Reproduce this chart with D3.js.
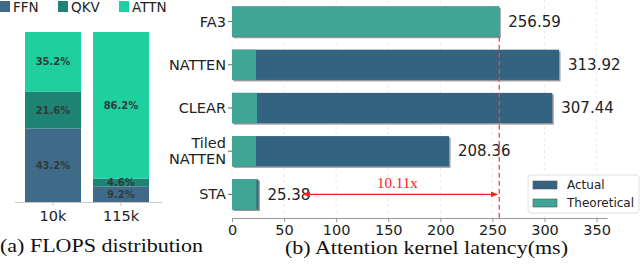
<!DOCTYPE html>
<html>
<head>
<meta charset="utf-8">
<script src="https://cdn.jsdelivr.net/npm/d3@7"></script>
<style>
  body { margin: 0; background: #fff; }
  svg { display: block; }
</style>
</head>
<body>
<div id="chart"></div>
<script>
// left panel data
var contexts = ["10k", "115k"];
var parts = ["FFN", "QKV", "ATTN"];
var ffnShare = [43.2, 9.2];
var qkvShare = [21.6, 4.6];
var attnShare = [35.2, 86.2];

// right panel data
var kernels = ["FA3", "NATTEN", "CLEAR", "Tiled NATTEN", "STA"];
var actualMs = [256.59, 313.92, 307.44, 208.36, 25.38];
var theoreticalMs = [256.59, 23.0, 24.0, 23.0, 23.5];
var xTicks = [0, 50, 100, 150, 200, 250, 300, 350];
var speedup = "10.11x";

var partColor = { FFN: "#3f6b89", QKV: "#1e8373", ATTN: "#1fcf9f" };
var actualColor = "#346380";
var theoColor = "#41a596";
var sans = "DejaVu Sans, sans-serif";
var serif = "Liberation Serif, Times New Roman, serif";

var svg = d3.select("#chart").append("svg")
  .attr("width", 640)
  .attr("height", 266);

// ---------- (a) FLOPS distribution ----------
var a = svg.append("g");

var xa = d3.scaleBand().domain(contexts).range([25, 149]).paddingInner(0.176).paddingOuter(0);
var ya = d3.scaleLinear().domain([0, 100]).range([202, 32]);

var stackRows = contexts.map(function(c, i) {
  return { ctx: c, FFN: ffnShare[i], QKV: qkvShare[i], ATTN: attnShare[i] };
});
var stacked = d3.stack().keys(parts)(stackRows);

a.selectAll("g.layer")
  .data(stacked)
  .enter().append("g")
  .attr("class", "layer")
  .attr("fill", function(d) { return partColor[d.key]; })
  .selectAll("rect")
  .data(function(d) { return d; })
  .enter().append("rect")
  .attr("x", function(d) { return xa(d.data.ctx); })
  .attr("width", xa.bandwidth())
  .attr("y", function(d) { return ya(d[1]); })
  .attr("height", function(d) { return ya(d[0]) - ya(d[1]); });

// percentage labels
stacked.forEach(function(layer) {
  layer.forEach(function(d) {
    var v = d.data[layer.key];
    a.append("text")
      .attr("x", xa(d.data.ctx) + xa.bandwidth() / 2)
      .attr("y", (ya(d[0]) + ya(d[1])) / 2)
      .attr("dy", "0.35em")
      .attr("text-anchor", "middle")
      .style("font-family", sans)
      .style("font-size", "10px")
      .style("font-weight", "bold")
      .style("fill", "#2e3b3b")
      .text(v.toFixed(1) + "%");
  });
});

var xaAxis = a.append("g")
  .attr("transform", "translate(0,202)")
  .call(d3.axisBottom(xa).tickSize(4).tickSizeOuter(0));
xaAxis.select(".domain").attr("stroke", "#c8c8c8").attr("d", "M15,0.5H162");
xaAxis.selectAll(".tick line").attr("stroke", "#c8c8c8");
xaAxis.selectAll(".tick text")
  .attr("dy", "0.85em")
  .style("font-family", sans)
  .style("font-size", "14.5px")
  .style("fill", "#222");

// legend on top
var legA = a.append("g").attr("transform", "translate(0,1)");
var legX = [0, 58, 119];
parts.forEach(function(p, i) {
  legA.append("rect")
    .attr("x", legX[i]).attr("y", 0)
    .attr("width", 10).attr("height", 11)
    .attr("fill", partColor[p]);
  legA.append("text")
    .attr("x", legX[i] + 13).attr("y", 11)
    .style("font-family", sans)
    .style("font-size", "13.5px")
    .style("fill", "#222")
    .text(p);
});

a.append("text")
  .attr("x", 0).attr("y", 252)
  .attr("textLength", 203)
  .attr("lengthAdjust", "spacingAndGlyphs")
  .style("font-family", serif)
  .style("font-size", "19px")
  .style("fill", "#111")
  .text("(a) FLOPS distribution");

// ---------- (b) Attention kernel latency ----------
var b = svg.append("g");

var xb = d3.scaleLinear().domain([0, 360]).range([232, 607]);
var yb = d3.scaleBand().domain(kernels).range([0, 216]).paddingInner(0.3).paddingOuter(0.15);

// faint vertical grid
b.selectAll("line.grid")
  .data(xTicks)
  .enter().append("line")
  .attr("class", "grid")
  .attr("x1", function(d) { return xb(d); })
  .attr("x2", function(d) { return xb(d); })
  .attr("y1", 0).attr("y2", 218)
  .attr("stroke", "#e6e6e6")
  .attr("stroke-width", 0.8)
  .attr("stroke-dasharray", "3,3");

var rows = kernels.map(function(k, i) {
  return { name: k, actual: actualMs[i], theo: theoreticalMs[i] };
});

// shadow
b.selectAll("rect.shadow")
  .data(rows)
  .enter().append("rect")
  .attr("class", "shadow")
  .attr("x", xb(0) + 1.5)
  .attr("y", function(d) { return yb(d.name) + 1.5; })
  .attr("width", function(d) { return xb(d.actual) - xb(0); })
  .attr("height", yb.bandwidth())
  .attr("fill", "#9a9a9a");

b.selectAll("rect.actual")
  .data(rows)
  .enter().append("rect")
  .attr("class", "actual")
  .attr("x", xb(0))
  .attr("y", function(d) { return yb(d.name); })
  .attr("width", function(d) { return xb(d.actual) - xb(0); })
  .attr("height", yb.bandwidth())
  .attr("fill", actualColor);

b.selectAll("rect.theo")
  .data(rows)
  .enter().append("rect")
  .attr("class", "theo")
  .attr("x", xb(0))
  .attr("y", function(d) { return yb(d.name); })
  .attr("width", function(d) { return xb(d.theo) - xb(0); })
  .attr("height", yb.bandwidth())
  .attr("fill", theoColor);

b.selectAll("text.val")
  .data(rows)
  .enter().append("text")
  .attr("class", "val")
  .attr("x", function(d) { return xb(d.actual) + 9; })
  .attr("y", function(d) { return yb(d.name) + yb.bandwidth() / 2; })
  .attr("dy", "0.35em")
  .style("font-family", sans)
  .style("font-size", "15px")
  .style("fill", "#222")
  .text(function(d) { return d.actual.toFixed(2); });

// x axis
var xbAxis = b.append("g")
  .attr("transform", "translate(0,218)")
  .call(d3.axisBottom(xb).tickValues(xTicks).tickSize(4).tickSizeOuter(0));
xbAxis.select(".domain").attr("stroke", "#999");
xbAxis.selectAll(".tick line").attr("stroke", "#999");
xbAxis.selectAll(".tick text")
  .attr("dy", "0.72em")
  .style("font-family", sans)
  .style("font-size", "14.5px")
  .style("fill", "#222");

// y axis (no spine)
var ybAxis = b.append("g")
  .attr("transform", "translate(" + xb(0) + ",0)")
  .call(d3.axisLeft(yb).tickSize(4));
ybAxis.select(".domain").remove();
ybAxis.selectAll(".tick line").attr("stroke", "#666");
ybAxis.selectAll(".tick text").remove();
ybAxis.selectAll(".tick").each(function(d) {
  var words = d === "Tiled NATTEN" ? ["Tiled", "NATTEN"] : [d];
  var t = d3.select(this).append("text")
    .attr("x", -6)
    .attr("text-anchor", "end")
    .style("font-family", sans)
    .style("font-size", "14.5px")
    .style("fill", "#222");
  words.forEach(function(w, i) {
    t.append("tspan")
      .attr("x", -6)
      .attr("dy", words.length === 1 ? "0.35em" : (i === 0 ? "-0.22em" : "1.12em"))
      .text(w);
  });
});

// dashed reference at FA3 latency
b.append("line")
  .attr("x1", xb(actualMs[0])).attr("x2", xb(actualMs[0]))
  .attr("y1", yb("FA3") + yb.bandwidth()).attr("y2", 218)
  .attr("stroke", "#ee4444")
  .attr("stroke-width", 1.3)
  .attr("stroke-dasharray", "5,3");

// speedup arrow
var defs = svg.append("defs");
["arrowL", "arrowR"].forEach(function(id) {
  defs.append("marker")
    .attr("id", id)
    .attr("viewBox", "0 0 10 10")
    .attr("refX", 9).attr("refY", 5)
    .attr("markerWidth", 6).attr("markerHeight", 6)
    .attr("orient", "auto-start-reverse")
    .append("path")
    .attr("d", "M0,1L10,5L0,9z")
    .attr("fill", "#ff2020");
});
var arrowY = yb("STA") + yb.bandwidth() / 2;
var arrowX0 = xb(actualMs[4]) + 45;
b.append("line")
  .attr("x1", arrowX0).attr("x2", xb(actualMs[0]) - 2)
  .attr("y1", arrowY).attr("y2", arrowY)
  .attr("stroke", "#ff2020")
  .attr("stroke-width", 1.2)
  .attr("marker-start", "url(#arrowL)")
  .attr("marker-end", "url(#arrowR)");
b.append("text")
  .attr("x", (arrowX0 + xb(actualMs[0])) / 2 - 4)
  .attr("y", arrowY - 6)
  .attr("text-anchor", "middle")
  .style("font-family", serif)
  .style("font-size", "15px")
  .style("fill", "#ff2020")
  .text(speedup);

// legend
var legB = b.append("g").attr("transform", "translate(528,175)");
legB.append("rect")
  .attr("width", 111).attr("height", 38)
  .attr("rx", 3)
  .attr("fill", "#fff")
  .attr("fill-opacity", 0.85)
  .attr("stroke", "#e0e0e0");
[["Actual", actualColor], ["Theoretical", theoColor]].forEach(function(e, i) {
  legB.append("rect")
    .attr("x", 5).attr("y", 6 + i * 18)
    .attr("width", 24).attr("height", 8)
    .attr("fill", e[1])
    .attr("stroke", "#555").attr("stroke-width", 0.6);
  legB.append("text")
    .attr("x", 39).attr("y", 10 + i * 18)
    .attr("dy", "0.35em")
    .style("font-family", sans)
    .style("font-size", "12px")
    .style("fill", "#222")
    .text(e[0]);
});

b.append("text")
  .attr("x", 285).attr("y", 254)
  .attr("textLength", 283)
  .attr("lengthAdjust", "spacingAndGlyphs")
  .style("font-family", serif)
  .style("font-size", "19px")
  .style("fill", "#111")
  .text("(b) Attention kernel latency(ms)");
</script>
</body>
</html>
